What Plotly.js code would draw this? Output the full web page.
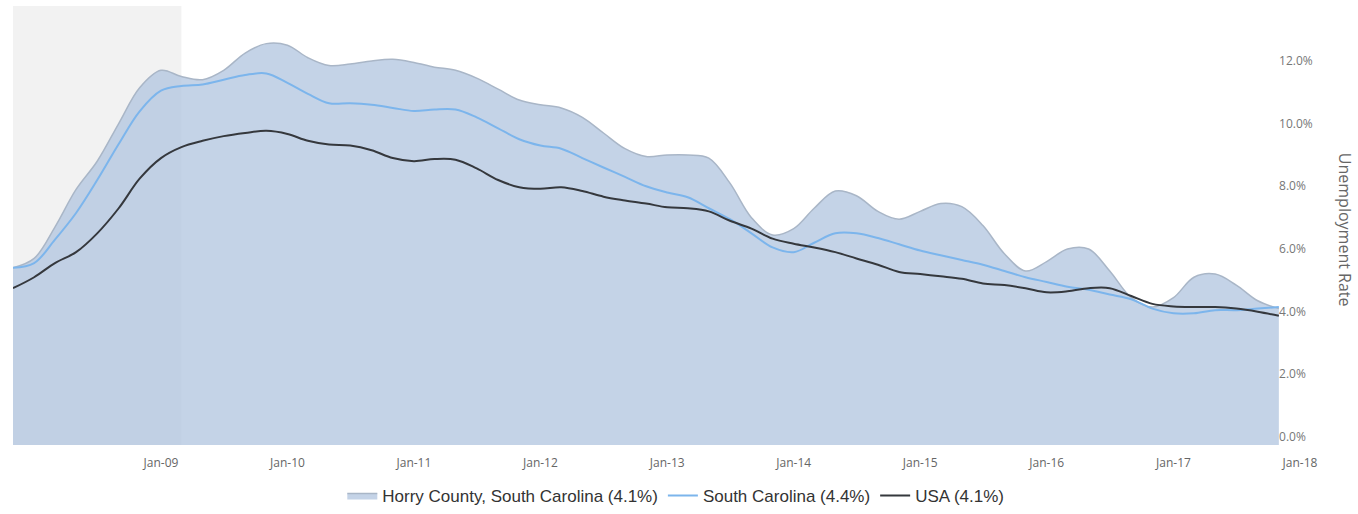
<!DOCTYPE html>
<html>
<head>
<meta charset="utf-8">
<script src="https://cdn.plot.ly/plotly-3.0.1.min.js"></script>
<style>html,body{margin:0;padding:0;background:#fff;}#chart{width:1358px;height:514px;}</style>
</head>
<body>
<div id="chart"></div>
<script>
var months = [
  '2007-11-01',
  '2008-01-01','2008-03-01','2008-05-01','2008-07-01','2008-09-01','2008-11-01',
  '2009-01-01','2009-03-01','2009-05-01','2009-07-01','2009-09-01','2009-11-01',
  '2010-01-01','2010-03-01','2010-05-01','2010-07-01','2010-09-01','2010-11-01',
  '2011-01-01','2011-03-01','2011-05-01','2011-07-01','2011-09-01','2011-11-01',
  '2012-01-01','2012-03-01','2012-05-01','2012-07-01','2012-09-01','2012-11-01',
  '2013-01-01','2013-03-01','2013-05-01','2013-07-01','2013-09-01','2013-11-01',
  '2014-01-01','2014-03-01','2014-05-01','2014-07-01','2014-09-01','2014-11-01',
  '2015-01-01','2015-03-01','2015-05-01','2015-07-01','2015-09-01','2015-11-01',
  '2016-01-01','2016-03-01','2016-05-01','2016-07-01','2016-09-01','2016-11-01',
  '2017-01-01','2017-03-01','2017-05-01','2017-07-01','2017-09-01','2017-11-01'
];

var horry = [
  5.65,
  5.95, 6.95, 8.15, 9.05, 10.25, 11.4,
  11.95, 11.75, 11.65, 11.95, 12.5, 12.8,
  12.75, 12.35, 12.1, 12.15, 12.25, 12.3,
  12.2, 12.05, 11.95, 11.7, 11.35, 11.0,
  10.85, 10.75, 10.45, 9.95, 9.45, 9.2,
  9.25, 9.25, 9.15, 8.35, 7.25, 6.7,
  6.9, 7.55, 8.1, 7.95, 7.45, 7.2,
  7.45, 7.7, 7.6, 7.0, 6.1, 5.55,
  5.85, 6.25, 6.25, 5.55, 4.7, 4.4,
  4.7, 5.35, 5.45, 5.1, 4.6, 4.35
];

var southCarolina = [
  5.65,
  5.8, 6.55, 7.4, 8.45, 9.6, 10.65,
  11.3, 11.45, 11.5, 11.65, 11.8, 11.85,
  11.55, 11.2, 10.9, 10.9, 10.85, 10.75,
  10.65, 10.7, 10.7, 10.45, 10.1, 9.75,
  9.55, 9.45, 9.15, 8.85, 8.55, 8.25,
  8.05, 7.9, 7.55, 7.2, 6.75, 6.3,
  6.15, 6.45, 6.75, 6.75, 6.6, 6.4,
  6.2, 6.05, 5.9, 5.75, 5.55, 5.35,
  5.2, 5.05, 4.95, 4.8, 4.65, 4.35,
  4.2, 4.2, 4.3, 4.3, 4.35, 4.4
];

var usa = [
  5.0,
  5.35, 5.8, 6.15, 6.75, 7.55, 8.5,
  9.15, 9.5, 9.7, 9.85, 9.95, 10.02,
  9.92, 9.7, 9.58, 9.55, 9.4, 9.15,
  9.05, 9.12, 9.1, 8.82, 8.45, 8.22,
  8.17, 8.22, 8.1, 7.92, 7.8, 7.7,
  7.58, 7.55, 7.45, 7.15, 6.9, 6.58,
  6.42, 6.3, 6.15, 5.95, 5.75, 5.52,
  5.45, 5.38, 5.3, 5.15, 5.1, 5.0,
  4.87, 4.9, 5.0, 5.0, 4.75, 4.5,
  4.42, 4.4, 4.4, 4.35, 4.25, 4.12
];

var seriesNames = ['Horry County, South Carolina (4.1%)', 'South Carolina (4.4%)', 'USA (4.1%)'];
var yTickVals = [0, 2, 4, 6, 8, 10, 12];
var yTickText = ['0.0%', '2.0%', '4.0%', '6.0%', '8.0%', '10.0%', '12.0%'];
var xTickVals = ['2009-01-01','2010-01-01','2011-01-01','2012-01-01','2013-01-01',
                 '2014-01-01','2015-01-01','2016-01-01','2017-01-01','2018-01-01'];
var xTickText = ['Jan-09','Jan-10','Jan-11','Jan-12','Jan-13','Jan-14','Jan-15','Jan-16','Jan-17','Jan-18'];
var bandStart = '2007-11-01', bandEnd = '2009-03-01';
var xStart = '2007-11-01', xEnd = '2018-01-01';

var traces = [
  {
    x: months, y: horry, name: seriesNames[0], type: 'scatter', mode: 'lines',
    fill: 'tozeroy', fillcolor: 'rgba(176,196,222,0.74)',
    line: {color: '#a9b6c7', width: 1.5, shape: 'spline', smoothing: 1},
    hoverinfo: 'skip'
  },
  {
    x: months, y: southCarolina, name: seriesNames[1], type: 'scatter', mode: 'lines',
    line: {color: '#7cb5ec', width: 2, shape: 'spline', smoothing: 1},
    hoverinfo: 'skip'
  },
  {
    x: months, y: usa, name: seriesNames[2], type: 'scatter', mode: 'lines',
    line: {color: '#35383d', width: 2, shape: 'spline', smoothing: 1},
    hoverinfo: 'skip'
  }
];

var layout = {
  width: 1358, height: 514,
  margin: {l: 13, r: 58, t: 6, b: 69},
  paper_bgcolor: '#ffffff', plot_bgcolor: '#ffffff',
  showlegend: true,
  legend: {
    orientation: 'h', x: 0.515, xanchor: 'center',
    yref: 'container', y: 0.035, yanchor: 'middle',
    font: {family: 'Liberation Sans, Arial, sans-serif', size: 17, color: '#333333'},
    itemwidth: 30, traceorder: 'normal'
  },
  xaxis: {
    type: 'date', range: [xStart, xEnd],
    tickmode: 'array', tickvals: xTickVals, ticktext: xTickText,
    showgrid: false, zeroline: false, showline: false, ticks: '',
    ticklabelstandoff: 9,
    tickfont: {family: 'Open Sans, sans-serif', size: 12, color: '#666666'}
  },
  yaxis: {
    range: [0, 14], side: 'right', anchor: 'free', position: 0.983,
    tickmode: 'array', tickvals: yTickVals, ticktext: yTickText,
    showgrid: false, zeroline: false, showline: false, ticks: '',
    ticklabelshift: -8,
    tickfont: {family: 'Open Sans, sans-serif', size: 12, color: '#777777'}
  },
  shapes: [{
    type: 'rect', xref: 'x', yref: 'paper',
    x0: bandStart, x1: bandEnd, y0: 0, y1: 1,
    fillcolor: '#f2f2f2', line: {width: 0}, layer: 'below'
  }],
  annotations: [{
    text: 'Unemployment Rate', xref: 'paper', yref: 'paper',
    x: 1.035, y: 0.49, xanchor: 'center', yanchor: 'middle',
    textangle: 90, showarrow: false,
    font: {family: 'Open Sans, sans-serif', size: 16, color: '#666666'}
  }]
};

Plotly.newPlot('chart', traces, layout, {displayModeBar: false, staticPlot: true});
</script>
</body>
</html>
